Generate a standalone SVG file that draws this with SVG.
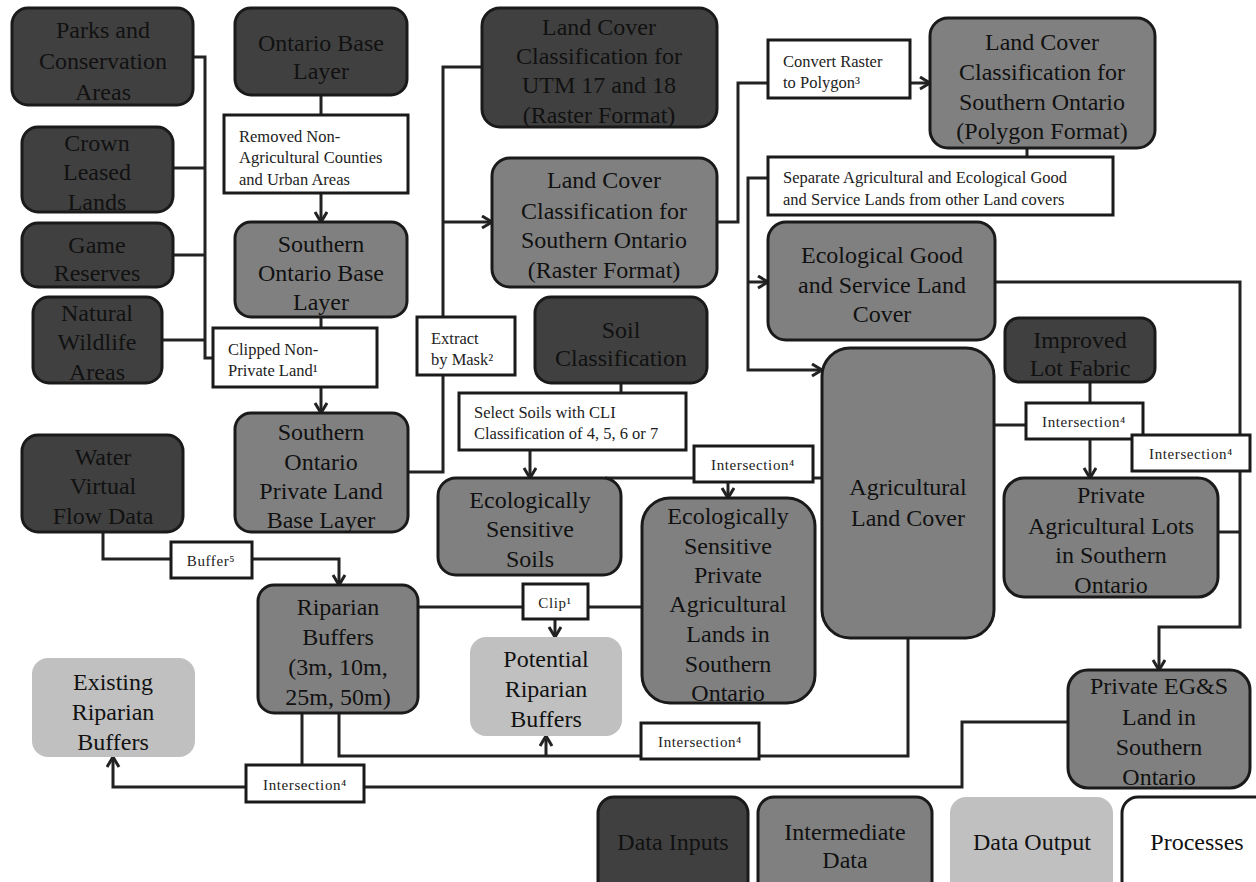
<svg xmlns="http://www.w3.org/2000/svg" width="1256" height="882" viewBox="0 0 1256 882">
<defs>
<style>
.in{fill:#404040;stroke:#1a1a1a;stroke-width:3}
.mid{fill:#808080;stroke:#1a1a1a;stroke-width:3}
.out{fill:#c0c0c0;stroke:none}
.proc{fill:#ffffff;stroke:#1a1a1a;stroke-width:3}
.t{font-family:"Liberation Serif","Times New Roman",serif;font-size:24px;fill:#111;text-anchor:middle}
.s{font-family:"Liberation Serif","Times New Roman",serif;font-size:16.5px;fill:#222}
.i{font-family:"Liberation Serif","Times New Roman",serif;font-size:15px;fill:#222;text-anchor:middle;letter-spacing:0.6px}
.c{fill:none;stroke:#222;stroke-width:3}
.a{marker-end:url(#arr)}
</style>
<marker id="arr" markerWidth="16" markerHeight="16" refX="12" refY="7" orient="auto" markerUnits="userSpaceOnUse">
<path d="M2,1 L12,7 L2,13" fill="none" stroke="#222" stroke-width="3"/>
</marker>
</defs>
<rect x="0" y="0" width="1256" height="882" fill="#ffffff"/>

<g id="connectors">
<path class="c" d="M193,57 H205 V358 H213"/>
<path class="c" d="M173,168 H205"/>
<path class="c" d="M173,255 H205"/>
<path class="c" d="M162,340 H205"/>
<path class="c" d="M321,95 V115"/>
<path class="c a" d="M321,193 V222"/>
<path class="c" d="M321,317 V328"/>
<path class="c a" d="M321,387 V413"/>
<path class="c" d="M408,472 H443 V375"/>
<path class="c" d="M443,317 V67 H482"/>
<path class="c a" d="M443,222 H492"/>
<path class="c" d="M717,222 H738 V83 H768"/>
<path class="c a" d="M910,83 H930"/>
<path class="c" d="M1027,148 V157"/>
<path class="c a" d="M768,178 H748 V370 H822"/>
<path class="c a" d="M748,282 H768"/>
<path class="c" d="M995,282 H1240 V435"/>
<path class="c a" d="M1240,471 V627 H1159 V670"/>
<path class="c" d="M1218,532 H1240"/>
<path class="c" d="M1090,382 V403"/>
<path class="c" d="M994,425 H1026"/>
<path class="c a" d="M1090,439 V478"/>
<path class="c" d="M621,383 V393"/>
<path class="c a" d="M530,450 V478"/>
<path class="c" d="M605,478 H694"/>
<path class="c" d="M813,478 H823"/>
<path class="c a" d="M728,482 V498"/>
<path class="c" d="M103,532 V559 H171"/>
<path class="c a" d="M252,559 H339 V585"/>
<path class="c" d="M418,607 H523"/>
<path class="c" d="M588,607 H642"/>
<path class="c a" d="M555,619 V637"/>
<path class="c" d="M339,713 V756 H908 V638"/>
<path class="c a" d="M546,756 V736"/>
<path class="c" d="M302,713 V765"/>
<path class="c" d="M1068,722 H962 V787 H364"/>
<path class="c a" d="M246,787 H113 V757"/>
</g>

<g id="parks"><rect class="in" x="12" y="8" width="181" height="97" rx="16"/><text class="t" x="103" y="38">Parks and</text><text class="t" x="103" y="69">Conservation</text><text class="t" x="103" y="100">Areas</text></g>
<g id="ontario-base"><rect class="in" x="235" y="8" width="172" height="87" rx="16"/><text class="t" x="321" y="51">Ontario Base</text><text class="t" x="321" y="79">Layer</text></g>
<g id="crown"><rect class="in" x="22" y="127" width="151" height="85" rx="16"/><text class="t" x="97" y="151">Crown</text><text class="t" x="97" y="180">Leased</text><text class="t" x="97" y="210">Lands</text></g>
<g id="game"><rect class="in" x="22" y="223" width="151" height="64" rx="16"/><text class="t" x="97" y="253">Game</text><text class="t" x="97" y="281">Reserves</text></g>
<g id="natural"><rect class="in" x="33" y="297" width="129" height="86" rx="16"/><text class="t" x="97" y="321">Natural</text><text class="t" x="97" y="350">Wildlife</text><text class="t" x="97" y="380">Areas</text></g>
<g id="p-removed"><rect class="proc" x="224" y="115" width="184" height="78"/><text class="s" x="239" y="142">Removed Non-</text><text class="s" x="239" y="163">Agricultural Counties</text><text class="s" x="239" y="185">and Urban Areas</text></g>
<g id="so-base"><rect class="mid" x="235" y="222" width="172" height="95" rx="16"/><text class="t" x="321" y="252">Southern</text><text class="t" x="321" y="281">Ontario Base</text><text class="t" x="321" y="310">Layer</text></g>
<g id="p-clipped"><rect class="proc" x="213" y="328" width="164" height="59"/><text class="s" x="228" y="355">Clipped Non-</text><text class="s" x="228" y="376">Private Land¹</text></g>
<g id="so-private"><rect class="mid" x="235" y="413" width="173" height="119" rx="16"/><text class="t" x="321" y="440">Southern</text><text class="t" x="321" y="470">Ontario</text><text class="t" x="321" y="499">Private Land</text><text class="t" x="321" y="528">Base Layer</text></g>
<g id="water"><rect class="in" x="22" y="435" width="161" height="97" rx="16"/><text class="t" x="103" y="465">Water</text><text class="t" x="103" y="494">Virtual</text><text class="t" x="103" y="524">Flow Data</text></g>
<g id="p-buffer"><rect class="proc" x="171" y="542" width="81" height="36"/><text class="i" x="211" y="566">Buffer⁵</text></g>
<g id="riparian"><rect class="mid" x="258" y="585" width="160" height="128" rx="16"/><text class="t" x="338" y="615">Riparian</text><text class="t" x="338" y="645">Buffers</text><text class="t" x="338" y="675">(3m, 10m,</text><text class="t" x="338" y="705">25m, 50m)</text></g>
<g id="existing"><rect class="out" x="32" y="658" width="163" height="99" rx="16"/><text class="t" x="113" y="690">Existing</text><text class="t" x="113" y="720">Riparian</text><text class="t" x="113" y="750">Buffers</text></g>
<g id="p-int-bl"><rect class="proc" x="246" y="765" width="118" height="37"/><text class="i" x="305" y="790">Intersection⁴</text></g>
<g id="lc-utm"><rect class="in" x="482" y="8" width="235" height="119" rx="18"/><text class="t" x="599" y="35">Land Cover</text><text class="t" x="599" y="64">Classification for</text><text class="t" x="599" y="93">UTM 17 and 18</text><text class="t" x="599" y="123">(Raster Format)</text></g>
<g id="lc-raster"><rect class="mid" x="492" y="158" width="225" height="129" rx="18"/><text class="t" x="604" y="188">Land Cover</text><text class="t" x="604" y="219">Classification for</text><text class="t" x="604" y="248">Southern Ontario</text><text class="t" x="604" y="278">(Raster Format)</text></g>
<g id="p-extract"><rect class="proc" x="417" y="317" width="98" height="58"/><text class="s" x="431" y="344">Extract</text><text class="s" x="431" y="365">by Mask²</text></g>
<g id="soil"><rect class="in" x="535" y="297" width="172" height="86" rx="16"/><text class="t" x="621" y="338">Soil</text><text class="t" x="621" y="366">Classification</text></g>
<g id="p-convert"><rect class="proc" x="768" y="40" width="142" height="58"/><text class="s" x="783" y="67">Convert Raster</text><text class="s" x="783" y="88">to Polygon³</text></g>
<g id="lc-poly"><rect class="mid" x="930" y="18" width="225" height="130" rx="18"/><text class="t" x="1042" y="50">Land Cover</text><text class="t" x="1042" y="80">Classification for</text><text class="t" x="1042" y="110">Southern Ontario</text><text class="t" x="1042" y="139">(Polygon Format)</text></g>
<g id="p-separate"><rect class="proc" x="768" y="157" width="345" height="58"/><text class="s" x="783" y="183">Separate Agricultural and Ecological Good</text><text class="s" x="783" y="205">and Service Lands from other Land covers</text></g>
<g id="egs"><rect class="mid" x="768" y="222" width="227" height="118" rx="18"/><text class="t" x="882" y="263">Ecological Good</text><text class="t" x="882" y="293">and Service Land</text><text class="t" x="882" y="322">Cover</text></g>
<g id="improved"><rect class="in" x="1005" y="318" width="150" height="64" rx="14"/><text class="t" x="1080" y="348">Improved</text><text class="t" x="1080" y="376">Lot Fabric</text></g>
<g id="agri"><rect class="mid" x="822" y="348" width="172" height="290" rx="28"/><text class="t" x="908" y="495">Agricultural</text><text class="t" x="908" y="526">Land Cover</text></g>
<g id="p-int-lot"><rect class="proc" x="1026" y="403" width="117" height="36"/><text class="i" x="1084" y="427">Intersection⁴</text></g>
<g id="p-int-right"><rect class="proc" x="1132" y="435" width="118" height="36"/><text class="i" x="1191" y="459">Intersection⁴</text></g>
<g id="pal"><rect class="mid" x="1004" y="478" width="214" height="119" rx="20"/><text class="t" x="1111" y="503">Private</text><text class="t" x="1111" y="534">Agricultural Lots</text><text class="t" x="1111" y="563">in Southern</text><text class="t" x="1111" y="593">Ontario</text></g>
<g id="pegs"><rect class="mid" x="1068" y="670" width="182" height="118" rx="20"/><text class="t" x="1159" y="694">Private EG&amp;S</text><text class="t" x="1159" y="725">Land in</text><text class="t" x="1159" y="755">Southern</text><text class="t" x="1159" y="785">Ontario</text></g>
<g id="p-select"><rect class="proc" x="459" y="393" width="227" height="57"/><text class="s" x="474" y="418">Select Soils with CLI</text><text class="s" x="474" y="439">Classification of 4, 5, 6 or 7</text></g>
<g id="ess"><rect class="mid" x="438" y="478" width="183" height="97" rx="18"/><text class="t" x="530" y="508">Ecologically</text><text class="t" x="530" y="537">Sensitive</text><text class="t" x="530" y="567">Soils</text></g>
<g id="p-int-mid"><rect class="proc" x="694" y="446" width="119" height="36"/><text class="i" x="753" y="470">Intersection⁴</text></g>
<g id="espal"><rect class="mid" x="642" y="498" width="173" height="205" rx="28"/><text class="t" x="728" y="524">Ecologically</text><text class="t" x="728" y="554">Sensitive</text><text class="t" x="728" y="583">Private</text><text class="t" x="728" y="612">Agricultural</text><text class="t" x="728" y="642">Lands in</text><text class="t" x="728" y="672">Southern</text><text class="t" x="728" y="701">Ontario</text></g>
<g id="p-clip"><rect class="proc" x="523" y="584" width="65" height="35"/><text class="i" x="555" y="608">Clip¹</text></g>
<g id="potential"><rect class="out" x="470" y="637" width="152" height="99" rx="16"/><text class="t" x="546" y="667">Potential</text><text class="t" x="546" y="697">Riparian</text><text class="t" x="546" y="727">Buffers</text></g>
<g id="p-int-bm"><rect class="proc" x="641" y="723" width="118" height="36"/><text class="i" x="700" y="747">Intersection⁴</text></g>

<g id="legend-inputs"><rect class="in" x="598" y="797" width="150" height="100" rx="16"/><text class="t" x="673" y="850">Data Inputs</text></g>
<g id="legend-intermediate"><rect class="mid" x="758" y="797" width="174" height="100" rx="16"/><text class="t" x="845" y="840">Intermediate</text><text class="t" x="845" y="868">Data</text></g>
<g id="legend-output"><rect class="out" x="950" y="797" width="163" height="100" rx="16"/><text class="t" x="1032" y="850">Data Output</text></g>
<g id="legend-processes"><rect class="proc" x="1122" y="797" width="150" height="100" rx="16"/><text class="t" x="1197" y="850">Processes</text></g>
</svg>
